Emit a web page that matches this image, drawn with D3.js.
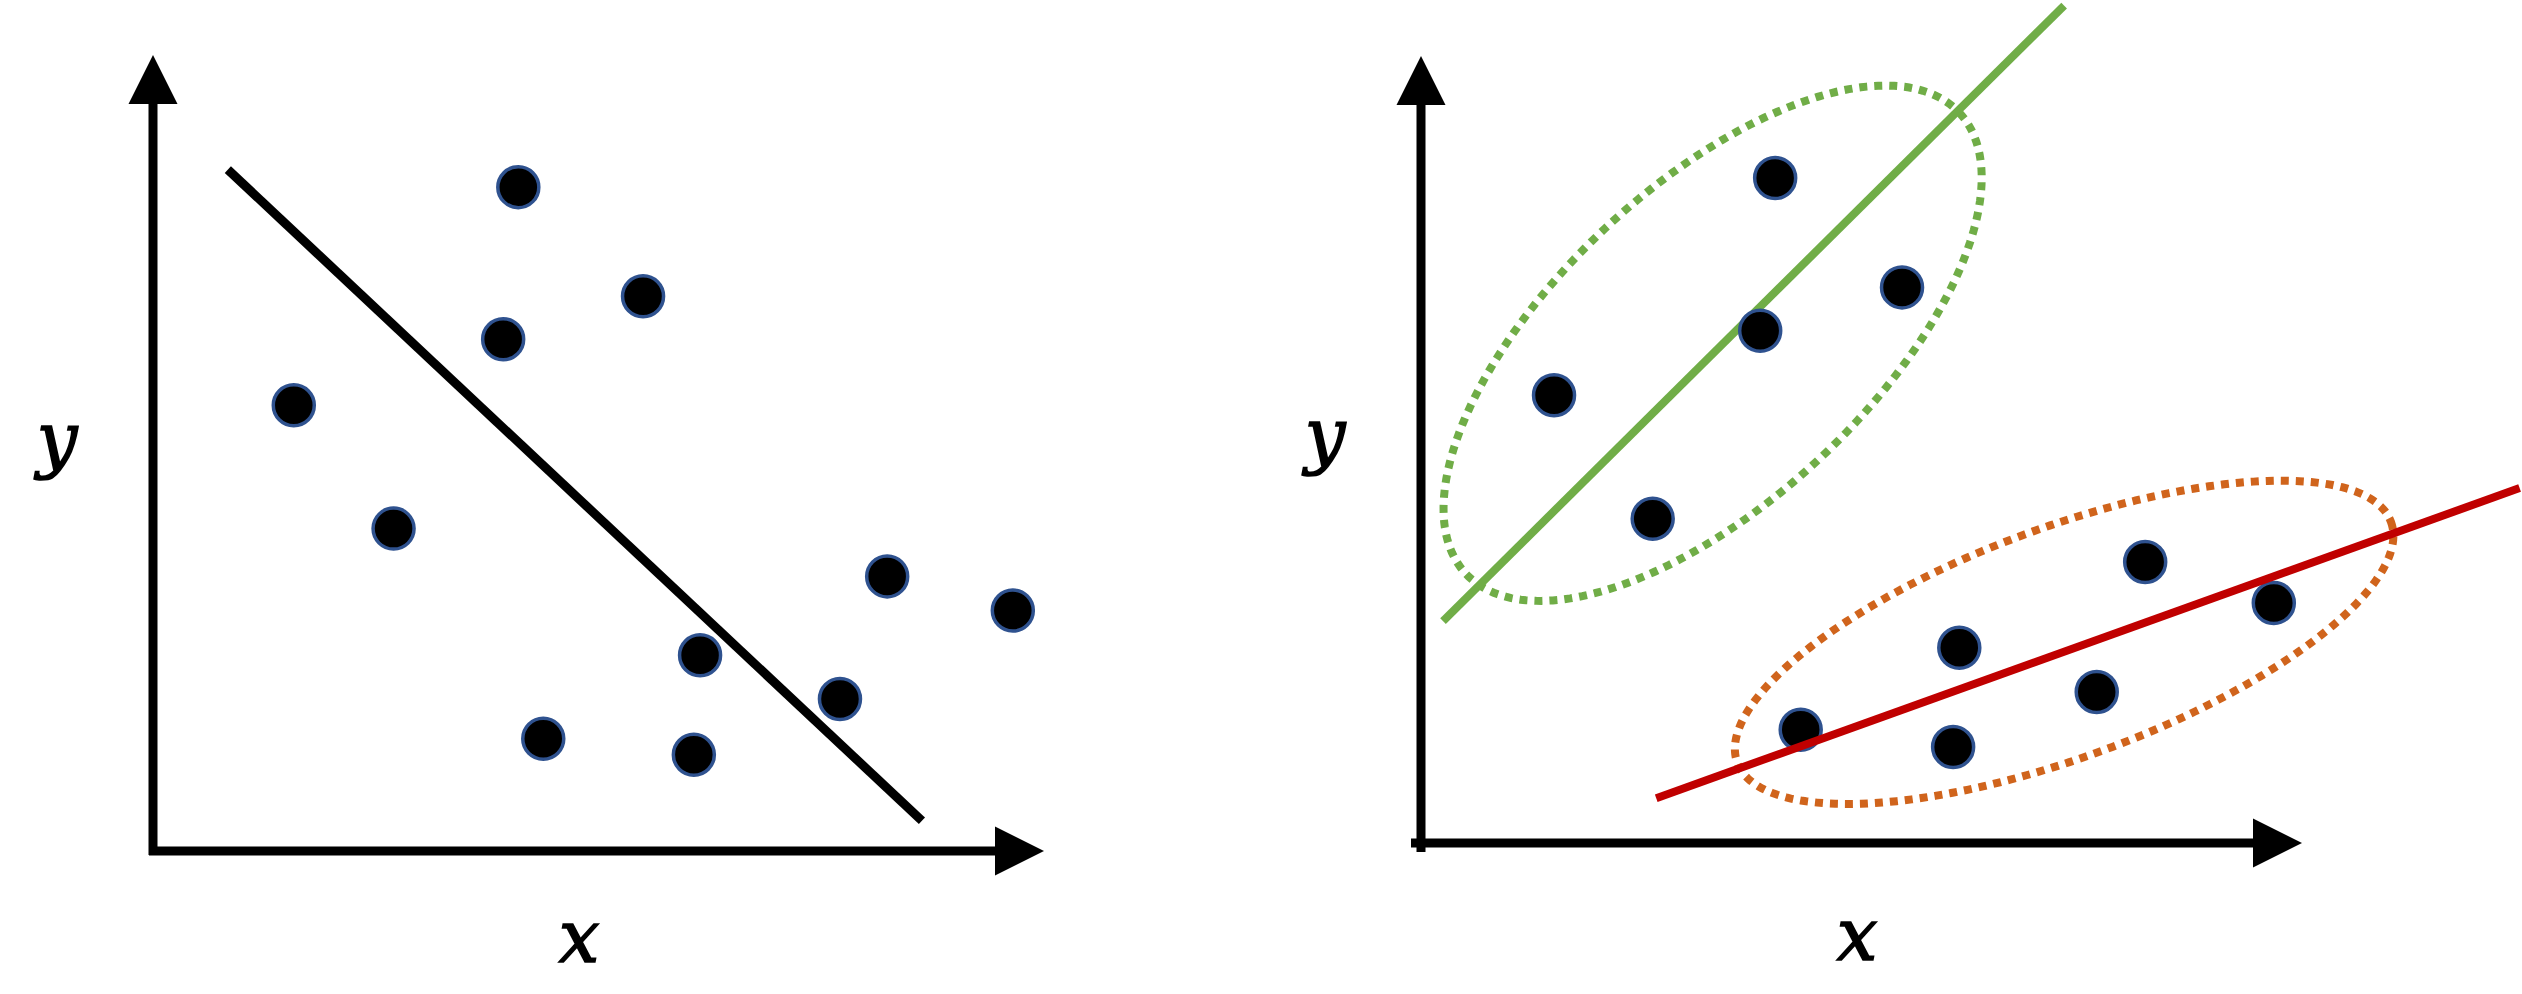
<!DOCTYPE html>
<html>
<head>
<meta charset="utf-8">
<script src="https://cdn.jsdelivr.net/npm/d3@7"></script>
<style>
  html, body { margin: 0; padding: 0; background: #ffffff; }
  svg { display: block; }
</style>
</head>
<body>
<svg id="chart" width="2522" height="994"></svg>
<script>
// ---------- DATA (axis units 0..10 on each panel) ----------
const leftPointsX  = [4.10, 5.50, 3.93, 1.58, 2.70, 8.24, 9.65, 6.14, 7.71, 4.38, 6.07];
const leftPointsY  = [8.34, 6.97, 6.43, 5.60, 4.05, 3.45, 3.02, 2.46, 1.91, 1.41, 1.21];
const leftLineX    = [0.84, 8.63];
const leftLineY    = [8.56, 0.38];

const greenPointsX = [4.02, 5.46, 3.85, 1.51, 2.63];
const greenPointsY = [8.45, 7.06, 6.51, 5.69, 4.12];
const redPointsX   = [8.22, 9.68, 6.11, 7.67, 4.31, 6.04];
const redPointsY   = [3.57, 3.05, 2.48, 1.92, 1.44, 1.22];
const greenLineX   = [0.25, 7.30];
const greenLineY   = [2.82, 10.64];
const redLineX     = [2.67, 12.47];
const redLineY     = [0.57, 4.51];
// cluster ellipses: centre, first semi-axis vector, second semi-axis vector (axis units)
const greenEllipse = { cx: 3.31, cy: 6.35, ux: 2.80, uy: 2.93, vx: 1.22, vy: -1.46 };
const redEllipse   = { cx: 7.30, cy: 2.55, ux: 3.71, uy: 1.53, vx: 0.45, vy: -1.37 };

const axisDomain = [0, 10];
const axisLabels = { x: "x", y: "y" };

// ---------- LAYOUT ----------
const svg = d3.select("#chart");

const panels = [
  { x: d3.scaleLinear().domain(axisDomain).range([153, 1044]),
    y: d3.scaleLinear().domain(axisDomain).range([851, 55]),
    xLab: 579, yLab: 57, yLabBase: 464, xLabBase: 962, cornerExt: [4, 4] },
  { x: d3.scaleLinear().domain(axisDomain).range([1421, 2302]),
    y: d3.scaleLinear().domain(axisDomain).range([843, 56]),
    xLab: 1857, yLab: 1325, yLabBase: 460, xLabBase: 960, cornerExt: [10, 9] }
];

const arrowLen = 49, arrowHalf = 24.5;
const labelFont = "'DejaVu Serif', 'Liberation Serif', serif";

function addLabel(g, txt, x, y) {
  g.append("text").text(txt)
    .attr("x", x).attr("y", y)
    .attr("text-anchor", "middle")
    .attr("font-family", labelFont)
    .attr("font-style", "italic").attr("font-size", 72)
    .attr("fill", "#000").attr("stroke", "#000").attr("stroke-width", 1.6);
}

function drawAxes(p) {
  const g = svg.append("g");
  const x0 = p.x(axisDomain[0]), x1 = p.x(axisDomain[1]);
  const y0 = p.y(axisDomain[0]), y1 = p.y(axisDomain[1]);
  g.append("line")
    .attr("x1", x0).attr("x2", x0)
    .attr("y1", y0 + p.cornerExt[1]).attr("y2", y1 + arrowLen - 1)
    .attr("stroke", "#000").attr("stroke-width", 9);
  g.append("line")
    .attr("x1", x0 - p.cornerExt[0]).attr("x2", x1 - arrowLen + 1)
    .attr("y1", y0).attr("y2", y0)
    .attr("stroke", "#000").attr("stroke-width", 9);
  g.append("path")
    .attr("d", `M${x0},${y1} L${x0 - arrowHalf},${y1 + arrowLen} L${x0 + arrowHalf},${y1 + arrowLen} Z`)
    .attr("fill", "#000");
  g.append("path")
    .attr("d", `M${x1},${y0} L${x1 - arrowLen},${y0 - arrowHalf} L${x1 - arrowLen},${y0 + arrowHalf} Z`)
    .attr("fill", "#000");
  addLabel(g, axisLabels.y, p.yLab, p.yLabBase);
  addLabel(g, axisLabels.x, p.xLab, p.xLabBase);
}

function drawLine(p, xs, ys, color, width) {
  const pts = xs.map((v, i) => [v, ys[i]]);
  svg.append("path")
    .datum(pts)
    .attr("d", d3.line().x(d => p.x(d[0])).y(d => p.y(d[1])))
    .attr("fill", "none")
    .attr("stroke", color)
    .attr("stroke-width", width);
}

function drawPoints(p, xs, ys) {
  const pts = xs.map((v, i) => [v, ys[i]]);
  svg.append("g").selectAll("circle")
    .data(pts).join("circle")
    .attr("cx", d => p.x(d[0]))
    .attr("cy", d => p.y(d[1]))
    .attr("r", 20.5)
    .attr("fill", "#000")
    .attr("stroke", "#2F528F")
    .attr("stroke-width", 3.5);
}

function drawEllipse(p, e, color) {
  const n = 240;
  const pts = d3.range(n).map(i => {
    const t = (i / n) * 2 * Math.PI;
    return [e.cx + e.ux * Math.cos(t) + e.vx * Math.sin(t),
            e.cy + e.uy * Math.cos(t) + e.vy * Math.sin(t)];
  });
  svg.append("path")
    .datum(pts)
    .attr("d", d3.line().x(d => p.x(d[0])).y(d => p.y(d[1])).curve(d3.curveLinearClosed))
    .attr("fill", "none")
    .attr("stroke", color)
    .attr("stroke-width", 8)
    .attr("stroke-dasharray", "8 7");
}

// ---------- LEFT PANEL ----------
const L = panels[0];
drawAxes(L);
drawPoints(L, leftPointsX, leftPointsY);
drawLine(L, leftLineX, leftLineY, "#000", 9);

// ---------- RIGHT PANEL ----------
const R = panels[1];
drawAxes(R);
drawEllipse(R, greenEllipse, "#70AD47");
drawEllipse(R, redEllipse, "#D0641C");
drawLine(R, greenLineX, greenLineY, "#70AD47", 8);
drawPoints(R, greenPointsX, greenPointsY);
drawPoints(R, redPointsX, redPointsY);
drawLine(R, redLineX, redLineY, "#C00000", 8);
</script>
</body>
</html>
